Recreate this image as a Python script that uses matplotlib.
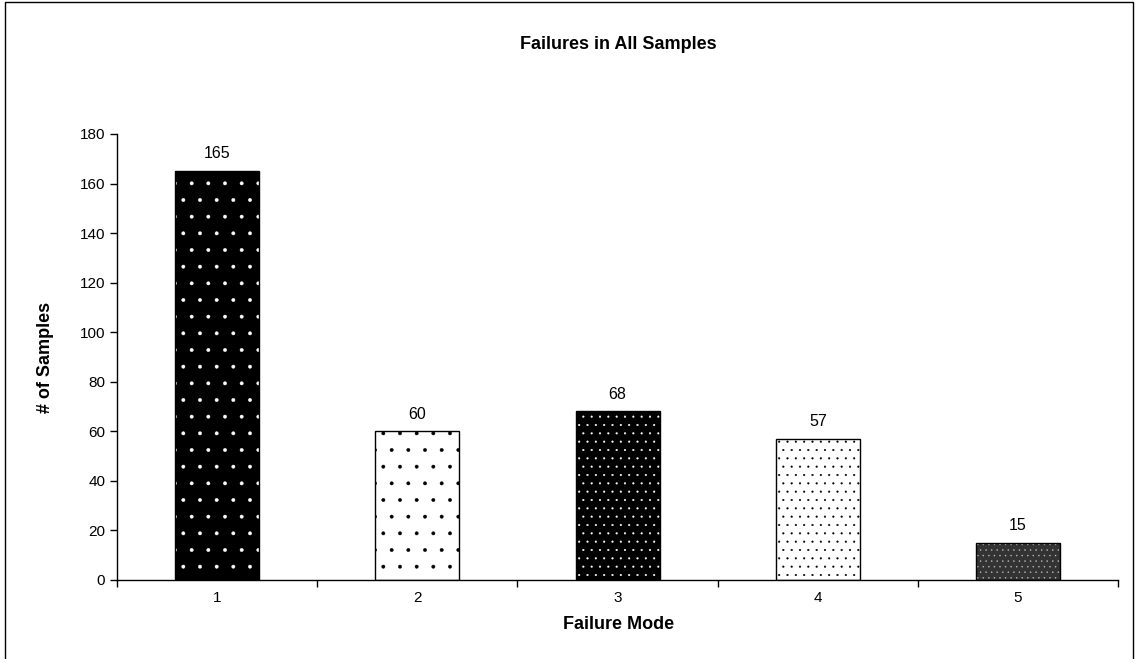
import numpy as np
import matplotlib
matplotlib.use('Agg')
import matplotlib.pyplot as plt
from matplotlib.patches import Rectangle

# failure counts per mode
modes = ['1', '2', '3', '4', '5']
counts = [165, 60, 68, 57, 15]

# fill / dot colour / hatch for each bar
faces = ['black', 'white', 'black', 'white', '#333333']
dots = ['white', 'black', 'white', 'black', '#bbbbbb']
hatches = ['.', '.', '..', '..', '...']

plt.rcParams['font.family'] = ['Liberation Sans', 'DejaVu Sans']
plt.rcParams['hatch.linewidth'] = 0.3

fig = plt.figure(figsize=(11.35, 6.59), dpi=100)
ax = fig.add_axes([0.1031, 0.1199, 0.882, 0.6768])

x = np.arange(len(modes))
width = 0.42
for i in range(len(modes)):
    # dotted fill first, then a plain black outline on top
    ax.bar(x[i], counts[i], width, color=faces[i], edgecolor=dots[i],
           hatch=hatches[i], linewidth=0, zorder=2)
    ax.bar(x[i], counts[i], width, fill=False, edgecolor='black',
           linewidth=1, zorder=3)
    ax.annotate(str(counts[i]), (x[i], counts[i]), xytext=(0, 7),
                textcoords='offset points', ha='center', va='bottom',
                fontsize=11.5)

ax.set_xlim(-0.5, len(modes) - 0.5)
ax.set_ylim(0, 180)
ax.set_yticks(np.arange(0, 181, 20))
ax.tick_params(axis='y', labelsize=11, length=5, width=1, direction='out')

# tick marks between categories, labels centred under bars
ax.set_xticks(np.arange(-0.5, len(modes), 1.0))
ax.set_xticklabels([])
ax.tick_params(axis='x', which='major', length=5, width=1, direction='out')
ax.set_xticks(x, minor=True)
ax.set_xticklabels(modes, minor=True, fontsize=11)
ax.tick_params(axis='x', which='minor', length=0, pad=8)

for s in ['top', 'right']:
    ax.spines[s].set_visible(False)
for s in ['left', 'bottom']:
    ax.spines[s].set_linewidth(1)

fig.text(0.545, 0.932, 'Failures in All Samples', ha='center', va='center',
         fontsize=13, fontweight='bold')
fig.text(0.04, 0.458, '# of Samples', ha='center', va='center',
         rotation=90, fontsize=13, fontweight='bold')
fig.text(0.545, 0.052, 'Failure Mode', ha='center', va='center',
         fontsize=13, fontweight='bold')

# chart area frame
fig.add_artist(Rectangle((0.0044, -0.01), 0.9938, 1.007, transform=fig.transFigure,
                         fill=False, edgecolor='black', linewidth=1))

fig.savefig('out.png', dpi=100)
